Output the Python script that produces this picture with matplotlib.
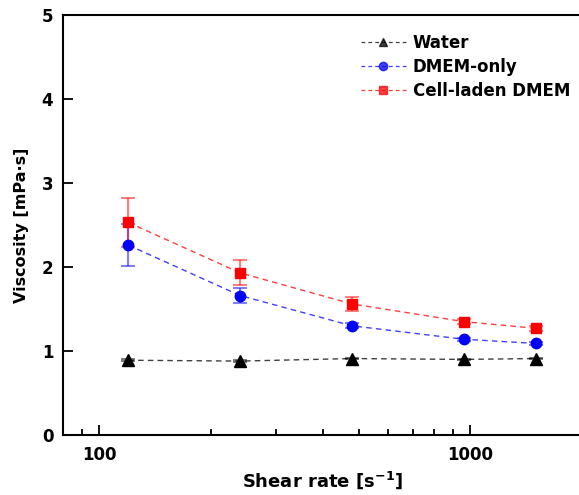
import matplotlib.pyplot as plt
from matplotlib.ticker import LogLocator, NullFormatter, FixedLocator

shear_rate = [120, 240, 480, 960, 1500]

water = [0.89, 0.88, 0.91, 0.90, 0.91]
water_err = [0.01, 0.01, 0.01, 0.01, 0.01]

dmem = [2.26, 1.66, 1.30, 1.14, 1.09]
dmem_err = [0.25, 0.09, 0.03, 0.02, 0.02]

cell = [2.53, 1.93, 1.56, 1.35, 1.27]
cell_err = [0.29, 0.15, 0.08, 0.03, 0.03]

plt.rcParams['font.family'] = ['DejaVu Sans']
plt.rcParams['font.weight'] = 'bold'

fig = plt.figure(figsize=(5.79, 4.95), dpi=100)
ax = fig.add_axes([63 / 579, 60 / 495, 519.1 / 579, 420 / 495])

series = [
    (water, water_err, 'black', '^', 'Water', 8),
    (dmem, dmem_err, 'blue', 'o', 'DMEM-only', 7.5),
    (cell, cell_err, 'red', 's', 'Cell-laden DMEM', 7),
]
for vals, errs, col, mk, lab, ms in series:
    ax.errorbar(shear_rate, vals, yerr=errs, color=col, ecolor=col,
                elinewidth=1.5, capsize=5, capthick=1.5, alpha=0.5,
                fmt='none', zorder=2)
    ax.plot(shear_rate, vals, linestyle=(0, (4, 3)), color=col, lw=1.0,
            alpha=0.75, zorder=3)
    ax.plot(shear_rate, vals, linestyle='none', marker=mk, markersize=ms,
            color=col, zorder=4)
    # legend proxy
    ax.plot([], [], linestyle=(0, (3, 2.5)), color=col, lw=0.9, alpha=0.75,
            marker=mk, markersize=ms * 0.8, markerfacecolor=col,
            markeredgecolor=col, label=lab)

ax.set_xscale('log')
ax.set_xlim(80, 2000)
ax.set_ylim(0, 5)
ax.set_yticks([0, 1, 2, 3, 4, 5])
ax.xaxis.set_major_locator(FixedLocator([100, 1000]))
ax.set_xticklabels(['100', '1000'])
ax.xaxis.set_minor_locator(LogLocator(base=10, subs=range(2, 10)))
ax.xaxis.set_minor_formatter(NullFormatter())

ax.tick_params(axis='both', which='major', direction='in', length=7,
               width=1.3, labelsize=12)
ax.tick_params(axis='y', pad=7)
ax.tick_params(axis='x', pad=8)
ax.tick_params(axis='x', which='minor', direction='in', length=4, width=1.3)
for s in ax.spines.values():
    s.set_linewidth(1.5)

ax.set_xlabel('Shear rate [s$^{\\mathbf{-1}}$]', fontsize=13, fontweight='bold', labelpad=4)
ax.set_ylabel('Viscosity [mPa·s]', fontsize=11.5, fontweight='bold', labelpad=9)

ax.legend(loc='upper left', bbox_to_anchor=(0.545, 0.99), frameon=False,
          handlelength=2.7, handletextpad=0.4, labelspacing=0.35,
          prop={'weight': 'bold', 'size': 12})

fig.savefig('out.png', dpi=100)
